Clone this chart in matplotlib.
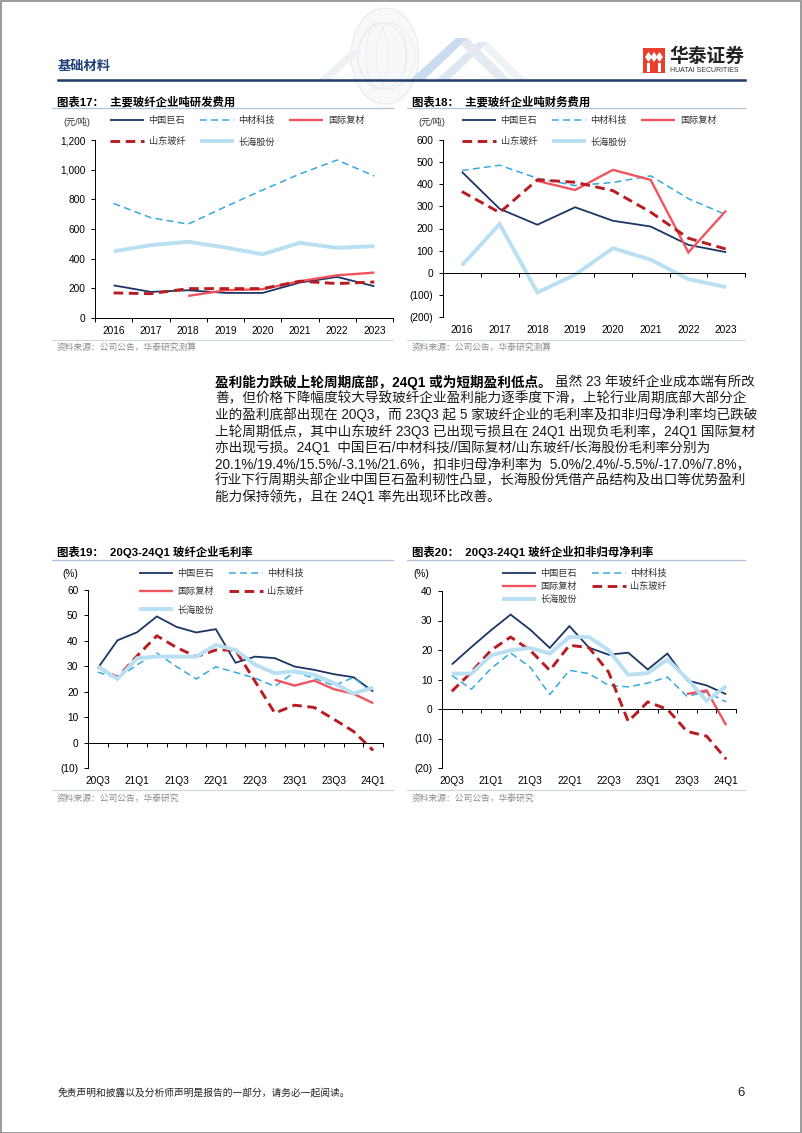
import matplotlib
matplotlib.use('Agg')
import matplotlib.pyplot as plt
from matplotlib.patches import Rectangle, Polygon, Circle, Ellipse
from matplotlib.lines import Line2D
import numpy as np

plt.rcParams['font.family'] = ['Liberation Sans', 'Noto Sans CJK SC']
plt.rcParams['axes.unicode_minus'] = False

nan = np.nan

# ---------------- data ----------------
years = ['2016', '2017', '2018', '2019', '2020', '2021', '2022', '2023']
series_names = ['中国巨石', '中材科技', '国际复材', '山东玻纤', '长海股份']

rd_jushi = [220, 176, 187, 169, 169, 239, 277, 214]
rd_zhongcai = [772, 676, 633, 750, 863, 971, 1065, 957]
rd_guoji = [nan, nan, 149, 187, 194, 248, 288, 306]
rd_shandong = [169, 164, 198, 198, 198, 248, 232, 243]
rd_changhai = [450, 491, 514, 475, 430, 507, 473, 484]

fin_jushi = [456, 289, 217, 296, 235, 209, 126, 93]
fin_zhongcai = [462, 486, 427, 394, 408, 438, 335, 262]
fin_guoji = [nan, nan, 415, 374, 465, 420, 92, 281]
fin_shandong = [367, 272, 420, 409, 371, 274, 156, 107]
fin_changhai = [33, 220, -89, -9, 111, 59, -29, -65]

quarters = ['20Q3', '20Q4', '21Q1', '21Q2', '21Q3', '21Q4', '22Q1', '22Q2',
            '22Q3', '22Q4', '23Q1', '23Q2', '23Q3', '23Q4', '24Q1']

gm_jushi = [29.3, 40.2, 43.4, 49.6, 45.5, 43.3, 44.6, 31.4, 33.8, 33.2, 29.9, 28.6, 26.9, 25.7, 20.1]
gm_zhongcai = [27.7, 25.3, 30.6, 35.2, 29.9, 25.0, 29.8, 27.6, 25.3, 22.1, 27.7, 25.3, 22.4, 25.6, 19.4]
gm_guoji = [nan, nan, nan, nan, nan, nan, nan, nan, nan, 24.7, 22.4, 24.4, 21.0, 19.2, 15.5]
gm_shandong = [29.7, 25.6, 34.1, 42.0, 37.4, 33.8, 36.4, 36.4, 24.0, 11.6, 14.7, 13.8, 9.2, 4.4, -3.1]
gm_changhai = [29.9, 25.0, 33.2, 33.8, 33.8, 33.8, 38.4, 36.4, 30.6, 27.3, 28.0, 26.6, 23.4, 19.3, 21.6]

np_jushi = [15.1, 21.0, 26.7, 32.0, 26.9, 20.7, 28.1, 20.8, 18.4, 19.1, 13.4, 18.8, 9.7, 8.0, 5.0]
np_zhongcai = [11.4, 6.7, 13.7, 19.0, 14.2, 4.9, 13.1, 12.0, 8.0, 7.5, 8.8, 10.8, 4.3, 5.8, 2.4]
np_guoji = [nan, nan, nan, nan, nan, nan, nan, nan, nan, nan, nan, nan, 5.1, 6.3, -5.5]
np_shandong = [6.0, 12.5, 19.9, 24.4, 19.9, 13.1, 21.6, 20.8, 12.5, -4.2, 2.4, -0.1, -7.6, -9.2, -17.0]
np_changhai = [12.0, 12.0, 18.2, 19.9, 20.7, 18.8, 24.4, 24.4, 19.9, 11.6, 12.2, 16.8, 10.3, 2.7, 7.8]

body_lines = [
    '善，但价格下降幅度较大导致玻纤企业盈利能力逐季度下滑，上轮行业周期底部大部分企',
    '业的盈利底部出现在 20Q3，而 23Q3 起 5 家玻纤企业的毛利率及扣非归母净利率均已跌破',
    '上轮周期低点，其中山东玻纤 23Q3 已出现亏损且在 24Q1 出现负毛利率，24Q1 国际复材',
    '亦出现亏损。24Q1  中国巨石/中材科技//国际复材/山东玻纤/长海股份毛利率分别为',
    '20.1%/19.4%/15.5%/-3.1%/21.6%，扣非归母净利率为  5.0%/2.4%/-5.5%/-17.0%/7.8%，',
    '行业下行周期头部企业中国巨石盈利韧性凸显，长海股份凭借产品结构及出口等优势盈利',
    '能力保持领先，且在 24Q1 率先出现环比改善。',
]
body_bold = '盈利能力跌破上轮周期底部，24Q1 或为短期盈利低点。'
body_first_rest = '虽然 23 年玻纤企业成本端有所改'

# ---------------- styles ----------------
C_JUSHI = '#1A3566'
C_ZHONGCAI = '#36A9DE'
C_GUOJI = '#F0555F'
C_SHANDONG = '#B81C22'
C_CHANGHAI = '#B9E0F2'
styles = [
    dict(color=C_JUSHI, lw=1.3, ls='-'),
    dict(color=C_ZHONGCAI, lw=1.1, ls=(0, (4.5, 2.8))),
    dict(color=C_GUOJI, lw=1.7, ls='-'),
    dict(color=C_SHANDONG, lw=2.1, ls=(0, (3.3, 1.9))),
    dict(color=C_CHANGHAI, lw=2.8, ls='-'),
]

W, H = 802, 1133
fig = plt.figure(figsize=(W / 100, H / 100), dpi=100)


def fx(x):
    return x / W


def fy(y):
    return 1 - y / H


def add_axes_px(left, top, right, bottom):
    return fig.add_axes([fx(left), fy(bottom), (right - left) / W, (bottom - top) / H])


def yfmt(v):
    if v < 0:
        return '({:,})'.format(int(abs(v)))
    return '{:,}'.format(int(v))


def draw_chart(ax, cats, data, ylim, yticks, label_step):
    n = len(cats)
    x = np.arange(n)
    lines = []
    for vals, st in zip(data, styles):
        ln, = ax.plot(x, vals, color=st['color'], lw=st['lw'], ls=st['ls'],
                      solid_capstyle='butt', dash_capstyle='butt', solid_joinstyle='miter')
        lines.append(ln)
    ax.set_xlim(-0.5, n - 0.5)
    ax.set_ylim(*ylim)
    ax.set_yticks(yticks)
    ax.set_yticklabels([yfmt(v) for v in yticks])
    ax.patch.set_alpha(0)
    for s in ['top', 'right']:
        ax.spines[s].set_visible(False)
    for s in ['left', 'bottom']:
        ax.spines[s].set_color('#000000')
        ax.spines[s].set_linewidth(0.7)
    ax.spines['bottom'].set_position(('data', 0))
    ax.set_xticks([])
    ax.set_xticks(np.arange(-0.5, n, 1), minor=True)
    ax.tick_params(axis='x', which='minor', length=3, width=0.7, direction='out', color='#000000')
    ax.tick_params(axis='y', length=3, width=0.7, direction='out', labelsize=7.3, pad=4,
                   color='#000000', labelcolor='#000000')
    sec = ax.secondary_xaxis('bottom')
    idx = list(range(0, n, label_step))
    sec.set_xticks(idx, [cats[i] for i in idx])
    sec.tick_params(length=0, labelsize=7.3, pad=6, labelcolor='#000000')
    sec.spines['bottom'].set_visible(False)
    return lines


def chart_frame(x0, x1, title, title_y, line_y, src, src_line_y, src_y):
    fig.text(fx(x0 + 5), fy(title_y), title, fontsize=8.2, fontweight='bold',
             va='center', ha='left', color='#000000')
    fig.add_artist(Line2D([fx(x0), fx(x1)], [fy(line_y), fy(line_y)], color='#AFC3D8', lw=0.9))
    fig.add_artist(Line2D([fx(x0), fx(x1)], [fy(src_line_y), fy(src_line_y)], color='#C9D6E3', lw=0.8))
    fig.text(fx(x0 + 5), fy(src_y), src, fontsize=6.3, color='#8C8C8C', va='center', ha='left')


def place_legend(ax, lines, order, ncol, x, y, labelspacing, colsp):
    hs = [lines[i] for i in order]
    ls = [series_names[i] for i in order]
    ax.legend(hs, ls, ncol=ncol, loc='upper left', bbox_to_anchor=(fx(x), fy(y)),
              bbox_transform=fig.transFigure, frameon=False, fontsize=6.6,
              handlelength=3.7, handletextpad=0.5, columnspacing=colsp,
              labelspacing=labelspacing, borderpad=0, borderaxespad=0,
              labelcolor='#333333')


# ---------------- chart 17 ----------------
ax17 = add_axes_px(95, 140, 393, 318)
l17 = draw_chart(ax17, years, [rd_jushi, rd_zhongcai, rd_guoji, rd_shandong, rd_changhai],
                 (0, 1200), list(range(0, 1201, 200)), 1)
place_legend(ax17, l17, [0, 3, 1, 4, 2], 3, 110, 116, 1.35, 1.6)
fig.text(fx(63), fy(122), '(元/吨)', fontsize=6.6, color='#333333', va='center')
chart_frame(52, 393, '图表17：  主要玻纤企业吨研发费用', 102, 107.5,
            '资料来源：公司公告，华泰研究测算', 340, 347)

# ---------------- chart 18 ----------------
ax18 = add_axes_px(443, 140, 745, 317)
l18 = draw_chart(ax18, years, [fin_jushi, fin_zhongcai, fin_guoji, fin_shandong, fin_changhai],
                 (-200, 600), list(range(-200, 601, 100)), 1)
place_legend(ax18, l18, [0, 3, 1, 4, 2], 3, 462, 116, 1.35, 1.6)
fig.text(fx(418), fy(122), '(元/吨)', fontsize=6.6, color='#333333', va='center')
chart_frame(407, 745, '图表18：  主要玻纤企业吨财务费用', 102, 107.5,
            '资料来源：公司公告，华泰研究测算', 340, 347)

# ---------------- chart 19 ----------------
ax19 = add_axes_px(88, 590, 383, 768)
l19 = draw_chart(ax19, quarters, [gm_jushi, gm_zhongcai, gm_guoji, gm_shandong, gm_changhai],
                 (-10, 60), list(range(-10, 61, 10)), 2)
place_legend(ax19, l19, [0, 2, 4, 1, 3], 2, 139, 569, 1.0, 1.6)
fig.text(fx(62), fy(574), '(%)', fontsize=7.3, color='#000000', va='center')
chart_frame(52, 393, '图表19：  20Q3-24Q1 玻纤企业毛利率', 552, 559.5,
            '资料来源：公司公告，华泰研究', 790, 798)

# ---------------- chart 20 ----------------
ax20 = add_axes_px(442, 591, 736, 768)
l20 = draw_chart(ax20, quarters, [np_jushi, np_zhongcai, np_guoji, np_shandong, np_changhai],
                 (-20, 40), list(range(-20, 41, 10)), 2)
place_legend(ax20, l20, [0, 2, 4, 1, 3], 2, 502, 569, 0.45, 1.6)
fig.text(fx(413), fy(574), '(%)', fontsize=7.3, color='#000000', va='center')
chart_frame(407, 745, '图表20：  20Q3-24Q1 玻纤企业扣非归母净利率', 552, 559.5,
            '资料来源：公司公告，华泰研究', 790, 798)

# ---------------- body text ----------------
BODY_X = 215
BODY_Y0 = 382
BODY_DY = 16.4
BODY_FS = 9.8
renderer = fig.canvas.get_renderer()
t0 = fig.text(fx(BODY_X), fy(BODY_Y0), body_bold, fontsize=BODY_FS, fontweight='bold',
              va='center', ha='left', color='#000000')
bb = t0.get_window_extent(renderer)
fig.text((bb.x1 + 3) / W, fy(BODY_Y0), body_first_rest,
         fontsize=BODY_FS, va='center', ha='left', color='#1A1A1A')
for i, ln in enumerate(body_lines):
    fig.text(fx(BODY_X), fy(BODY_Y0 + (i + 1) * BODY_DY), ln, fontsize=BODY_FS,
             va='center', ha='left', color='#1A1A1A')

# ---------------- header ----------------
# faint decorative globe and chevrons
fig.add_artist(Circle((fx(385), fy(56)), 34 / W, transform=fig.transFigure,
                      facecolor='#F7F8FA', edgecolor='#E2E5E9', lw=0.6, zorder=0))
for dx in (-20, -8, 4, 16):
    fig.add_artist(Ellipse((fx(385 + dx * 0.4), fy(56)), (66 - abs(dx) * 2.2) / W, 66 / H,
                           transform=fig.transFigure, facecolor='none',
                           edgecolor='#E6E9ED', lw=0.5, zorder=0))
chev = [
    ([(318, 80), (352, 50), (362, 50), (330, 80)], '#EEF1F4'),
    ([(410, 80), (456, 38), (468, 38), (424, 80)], '#C9DCEE'),
    ([(436, 80), (478, 42), (488, 42), (449, 80)], '#DCE7F1'),
    ([(468, 38), (510, 80), (497, 80), (461, 45)], '#E4EAF0'),
    ([(488, 42), (526, 80), (515, 80), (483, 48)], '#EEF2F5'),
]
for pts, col in chev:
    fig.add_artist(Polygon([(fx(a), fy(b)) for a, b in pts], closed=True,
                           transform=fig.transFigure, facecolor=col, edgecolor='none', zorder=0))

fig.text(fx(58), fy(67), '基础材料', fontsize=9.5, fontweight='bold', color='#1F3F7A',
         va='center', ha='left')
fig.add_artist(Line2D([fx(58), fx(745)], [fy(80), fy(80)], color='#1F3A6B', lw=1.8))

# logo
fig.add_artist(Rectangle((fx(643), fy(73)), 22 / W, 25 / H, transform=fig.transFigure,
                         facecolor='#E8402F', edgecolor='none'))
for cx in (648.5, 654, 659.5):
    fig.add_artist(Polygon([(fx(cx), fy(52)), (fx(cx + 3.5), fy(57)), (fx(cx), fy(62)),
                            (fx(cx - 3.5), fy(57))], closed=True, transform=fig.transFigure,
                           facecolor='white', edgecolor='none'))
for cx in (648.5, 659.5):
    fig.add_artist(Rectangle((fx(cx - 1.2), fy(72)), 2.4 / W, 9 / H, transform=fig.transFigure,
                             facecolor='white', edgecolor='none'))
fig.text(fx(669), fy(57), '华泰证券', fontsize=13.5, fontweight='bold', color='#222222',
         va='center', ha='left')
fig.text(fx(670.5), fy(71), 'HUATAI SECURITIES', fontsize=5.0, color='#333333',
         va='center', ha='left')

# ---------------- footer ----------------
fig.text(fx(58), fy(1093), '免责声明和披露以及分析师声明是报告的一部分，请务必一起阅读。',
         fontsize=7.0, color='#222222', va='center', ha='left', style='italic')
fig.text(fx(745), fy(1093), '6', fontsize=9.5, color='#222222', va='center', ha='right')

# page border
fig.add_artist(Rectangle((0.5 / W, 0.5 / H), (W - 1.5) / W, (H - 1.5) / H,
                         transform=fig.transFigure, facecolor='none', edgecolor='#8A8A8A', lw=1.2))

fig.savefig('out.png', dpi=100)
